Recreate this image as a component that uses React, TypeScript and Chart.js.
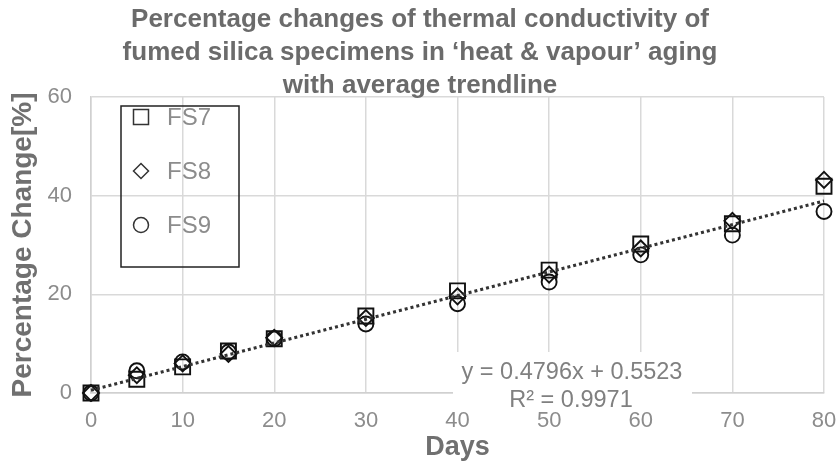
import React, { useEffect, useRef } from "react";
import { Chart, registerables } from "chart.js";

Chart.register(...registerables);

const days = [0, 5, 10, 15, 20, 30, 40, 50, 60, 70, 80];
const fs7 = [0, 2.8, 5.3, 8.5, 11.0, 15.6, 20.7, 24.9, 30.2, 34.3, 41.9];
const fs8 = [0, 3.6, 6.0, 7.9, 11.2, 15.2, 19.6, 24.0, 29.3, 34.9, 43.2];
const fs9 = [0, 4.5, 6.3, 8.3, 11.0, 14.0, 18.1, 22.5, 28.0, 32.0, 36.8];
const seriesNames = ["FS7", "FS8", "FS9"];
const trendSlope = 0.4796;
const trendIntercept = 0.5523;
const trendX = [0, 80];
const titleLines = [
  "Percentage changes of thermal conductivity of",
  "fumed silica specimens in \u2018heat & vapour\u2019 aging",
  "with average trendline",
];
const eqLines = ["y = 0.4796x + 0.5523", "R\u00b2 = 0.9971"];
const xTitle = "Days";
const yTitle = "Percentage Change[%]";

const FONT = "'Liberation Sans', Arial, Helvetica, sans-serif";

function drawMarker(ctx: CanvasRenderingContext2D, style: string, x: number, y: number) {
  ctx.beginPath();
  if (style === "rect") {
    ctx.rect(x - 7.5, y - 7.5, 15, 15);
  } else if (style === "rectRot") {
    ctx.moveTo(x - 7.5, y);
    ctx.lineTo(x, y - 7.5);
    ctx.lineTo(x + 7.5, y);
    ctx.lineTo(x, y + 7.5);
    ctx.closePath();
  } else {
    ctx.arc(x, y, 7.5, 0, Math.PI * 2);
  }
  ctx.stroke();
}

const overlayPlugin = {
  id: "overlay",
  afterDraw(chart: any) {
    const ctx: CanvasRenderingContext2D = chart.ctx;
    ctx.save();
    // Title
    ctx.fillStyle = "#6b6b6b";
    ctx.font = `bold 26px ${FONT}`;
    ctx.textAlign = "center";
    ctx.textBaseline = "alphabetic";
    const tb = [27, 60, 93];
    titleLines.forEach((t, i) => ctx.fillText(t, 420, tb[i]));

    // Legend box
    ctx.strokeStyle = "#222";
    ctx.lineWidth = 1.5;
    ctx.strokeRect(121, 106, 118, 161);
    const styles = ["rect", "rectRot", "circle"];
    const ly = [117, 171, 225];
    ctx.font = `24px ${FONT}`;
    ctx.textAlign = "left";
    ctx.textBaseline = "middle";
    styles.forEach((s, i) => {
      ctx.strokeStyle = "#333";
      ctx.lineWidth = 1.5;
      drawMarker(ctx, s, 141, ly[i]);
      ctx.fillStyle = "#8c8c8c";
      ctx.fillText(seriesNames[i], 167, ly[i] + 1);
    });

    // Equation label
    ctx.fillStyle = "#ffffff";
    ctx.fillRect(453, 352, 239, 44);
    ctx.fillStyle = "#808080";
    ctx.font = `23.5px ${FONT}`;
    ctx.textAlign = "center";
    ctx.textBaseline = "middle";
    ctx.fillText(eqLines[0], 572, 373);
    ctx.fillText(eqLines[1], 571, 401);
    ctx.restore();
  },
};

export default function App() {
  const ref = useRef<HTMLCanvasElement>(null);
  useEffect(() => {
    document.body.style.margin = "0";
    const canvas = ref.current!;
    const mk = (arr: number[]) => days.map((d, i) => ({ x: d, y: arr[i] }));
    const pointCommon = {
      borderColor: "#111",
      backgroundColor: "rgba(0,0,0,0)",
      pointBorderWidth: 1.9,
      showLine: false,
    };
    const chart = new Chart(canvas, {
      type: "scatter",
      data: {
        datasets: [
          {
            label: "trend",
            data: trendX.map((x) => ({ x, y: trendSlope * x + trendIntercept })),
            showLine: true,
            borderColor: "#333333",
            borderWidth: 3,
            borderDash: [3, 3],
            pointRadius: 0,
            pointHoverRadius: 0,
          } as any,
          { label: seriesNames[2], data: mk(fs9), pointStyle: "circle", pointRadius: 7.5, ...pointCommon } as any,
          { label: seriesNames[1], data: mk(fs8), pointStyle: "rectRot", pointRadius: 8, ...pointCommon } as any,
          { label: seriesNames[0], data: mk(fs7), pointStyle: "rect", pointRadius: 10.6, ...pointCommon } as any,
        ],
      },
      options: {
        responsive: false,
        animation: false,
        clip: false as any,
        layout: { padding: { top: 97, right: 16, left: 0, bottom: 0 } },
        plugins: {
          legend: { display: false },
          title: { display: false },
          tooltip: { enabled: false },
        },
        scales: {
          x: {
            type: "linear",
            min: 0,
            max: 80,
            ticks: {
              stepSize: 10,
              color: "#8c8c8c",
              font: { size: 22, family: FONT },
              padding: 15,
            },
            grid: { color: "#d9d9d9", lineWidth: 1.5, drawTicks: false },
            border: { color: "#d0d0d0", width: 1.5 },
            title: {
              display: true,
              text: xTitle,
              color: "#707070",
              font: { size: 27, weight: "bold", family: FONT },
              padding: { top: 0, bottom: 2 },
            },
            afterFit: (s: any) => {
              s.height = 73;
              s.paddingLeft = 0;
              s.paddingRight = 0;
            },
          },
          y: {
            type: "linear",
            min: 0,
            max: 60,
            ticks: {
              stepSize: 20,
              color: "#8c8c8c",
              font: { size: 22, family: FONT },
              padding: 19,
            },
            grid: { color: "#d9d9d9", lineWidth: 1.5, drawTicks: false },
            border: { color: "#d0d0d0", width: 1.5 },
            title: {
              display: true,
              text: yTitle,
              color: "#707070",
              font: { size: 28, weight: "bold", family: FONT },
              padding: { top: 6, bottom: 0 },
            },
            afterFit: (s: any) => {
              s.width = 91;
              s.paddingTop = 0;
              s.paddingBottom = 0;
            },
          },
        },
      } as any,
      plugins: [overlayPlugin],
    });
    return () => chart.destroy();
  }, []);
  return (
    <div style={{ width: 840, height: 466, background: "#fff" }}>
      <canvas ref={ref} width={840} height={466} style={{ display: "block" }} />
    </div>
  );
}
